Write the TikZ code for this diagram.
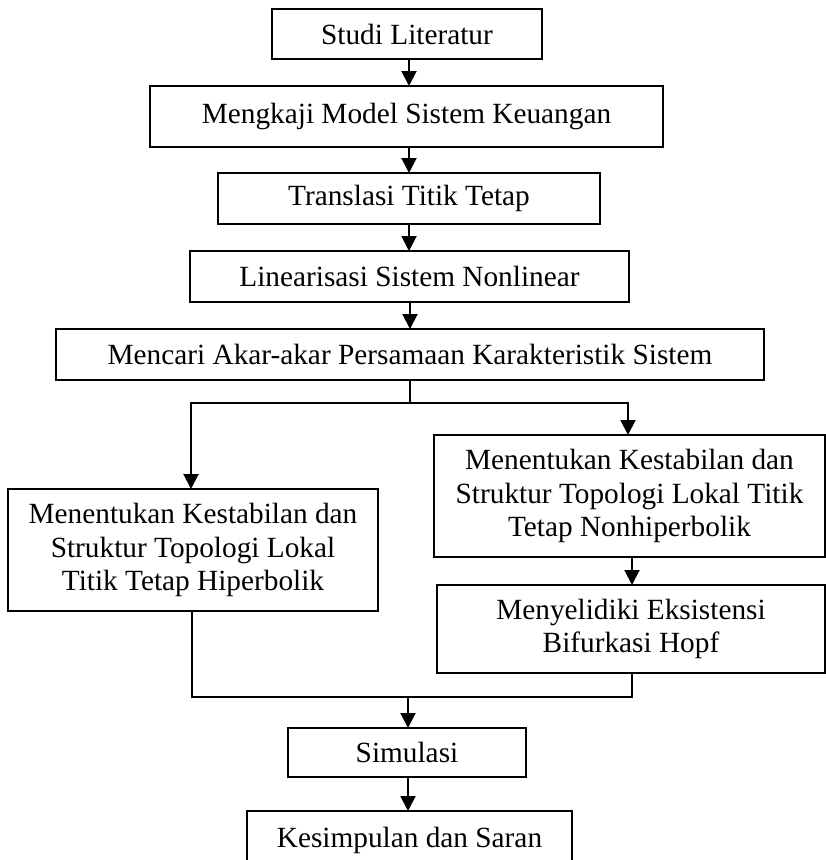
\documentclass[tikz,border=0pt]{standalone}
\usepackage{fontspec}
\setmainfont{Liberation Serif}
\usetikzlibrary{arrows.meta}
\begin{document}
\begin{tikzpicture}[x=1pt,y=-1pt,
  box/.style={draw, line width=1.3pt, inner sep=0pt, outer sep=0pt, align=center,
    font=\fontsize{29.3}{33.5}\selectfont},
  conn/.style={line width=2pt, line join=miter},
  tip/.tip={Triangle[length=15pt,width=15pt]},
  arr/.style={conn, -tip}]
\useasboundingbox (0,0) rectangle (826,860);
\clip (0,0) rectangle (826,860);

\node[box, minimum width=270pt, minimum height=50pt] (studi) at (407,34) {Studi Literatur};
\node[box, minimum width=513pt, minimum height=61pt] (mengkaji) at (406.5,116.5) {Mengkaji Model Sistem Keuangan};
\node[box, minimum width=382pt, minimum height=51pt] (translasi) at (409,198.5) {Translasi Titik Tetap};
\node[box, minimum width=439pt, minimum height=51pt] (linear) at (409.5,276.5) {Linearisasi Sistem Nonlinear};
\node[box, minimum width=708pt, minimum height=51pt] (mencari) at (410,354.5) {Mencari Akar-akar Persamaan Karakteristik Sistem};
\node[box, minimum width=370pt, minimum height=122pt] (hip) at (193,550) {Menentukan Kestabilan dan\\Struktur Topologi Lokal\\Titik Tetap Hiperbolik};
\node[box, minimum width=391pt, minimum height=122pt] (nonhip) at (629.5,496) {Menentukan Kestabilan dan\\Struktur Topologi Lokal Titik\\Tetap Nonhiperbolik};
\node[box, minimum width=388pt, minimum height=88pt] (hopf) at (631,629) {Menyelidiki Eksistensi\\Bifurkasi Hopf};
\node[box, minimum width=238pt, minimum height=49pt] (simulasi) at (407,752.5) {Simulasi};
\node[box, minimum width=325pt, minimum height=58pt] (kesimpulan) at (409.5,840) {Kesimpulan dan Saran};

\coordinate (col) at (409,0);
\coordinate (split) at (410,403);
\coordinate (bl) at (191,403);
\coordinate (br) at (628,403);
\coordinate (ml) at (192,697);
\coordinate (mr) at (632,697);
\coordinate (mm) at (408,697);

\draw[arr] (studi.south -| col) -- (mengkaji.north -| col);
\draw[arr] (mengkaji.south -| col) -- (translasi.north -| col);
\draw[arr] (translasi.south -| col) -- (linear.north -| col);
\draw[arr] (linear.south -| split) -- (mencari.north -| split);

\draw[conn] (mencari.south -| split) -- (split);
\draw[conn, tip-tip] (bl |- hip.north) -- (bl) -- (br) -- (br |- nonhip.north);
\draw[arr] (nonhip.south -| mr) -- (hopf.north -| mr);

\draw[conn] (hip.south -| ml) -- (ml) -- (mr) -- (hopf.south -| mr);
\draw[arr] (mm) -- (simulasi.north -| mm);
\draw[arr] (simulasi.south -| mm) -- (kesimpulan.north -| mm);
\end{tikzpicture}
\end{document}
